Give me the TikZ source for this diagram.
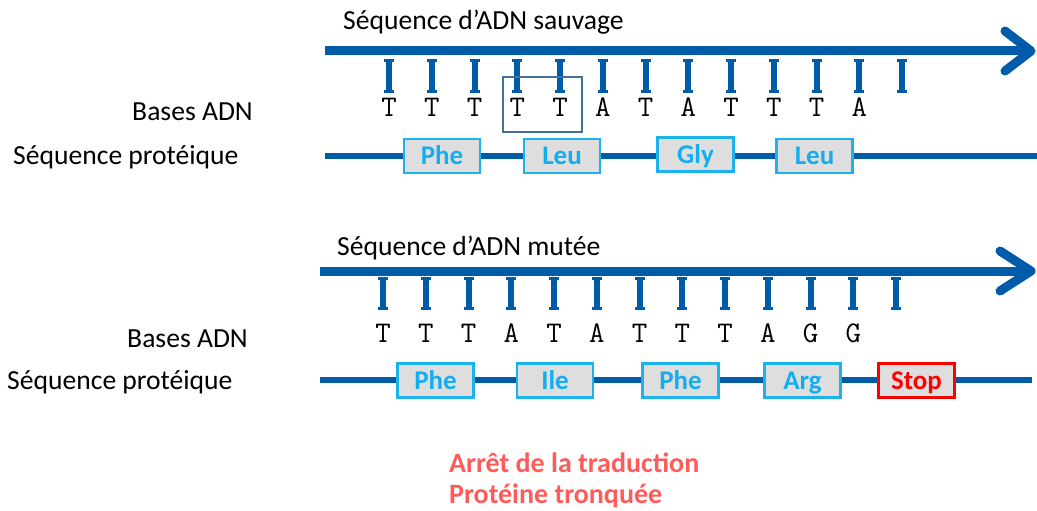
\documentclass[tikz,border=0pt]{standalone}
\usepackage{fontspec}
\setmainfont{Carlito}
\definecolor{dnablue}{HTML}{005CA9}
\definecolor{aablue}{HTML}{14AEEE}
\definecolor{aaedge}{HTML}{1CB2EC}
\definecolor{aafill}{HTML}{DEDEDE}
\definecolor{hlbox}{HTML}{41719C}
\definecolor{stopred}{HTML}{FF0000}
\definecolor{caption}{HTML}{FF5B5B}
\tikzset{
  strand/.style={draw=dnablue, line width=9pt},
  chevron/.style={draw=dnablue, line width=9pt, line cap=round, line join=round},
  protline/.style={draw=dnablue, line width=5.5pt},
  aabox/.style={draw=aaedge, line width=2.2pt, fill=aafill, minimum width=76pt, minimum height=34pt, inner sep=0pt, text height=17pt, text depth=0pt, text=aablue, font=\fontsize{27}{30}\selectfont\bfseries},
  stopbox/.style={aabox, draw=stopred, text=stopred},
  lbl/.style={inner sep=0pt, font=\fontsize{27.6}{30}\selectfont},
  dnabase/.style={inner sep=0pt, anchor=base, font=\ttfamily\fontsize{30}{30}\selectfont},
  capt/.style={inner sep=0pt, anchor=base west, text=caption, font=\fontsize{28}{30}\selectfont\bfseries}
}
\newcommand\dnatick[3]{%
  \fill[dnablue] (#1-3,#2) rectangle (#1+3,#3);
  \fill[dnablue] (#1-5,#2) rectangle (#1+5,#2+3);
  \fill[dnablue] (#1-5,#3-3) rectangle (#1+5,#3);
}
\begin{document}
\begin{tikzpicture}[x=1pt,y=-1pt]
\useasboundingbox (0,0) rectangle (1037,511);

% ---------- wild type ----------
\node[lbl, anchor=base west] (t1) at (343,30) {Séquence d’ADN sauvage};
\coordinate (s1a) at (325,51);
\coordinate (s1b) at (1028,51);
\draw[strand] (s1a) -- (s1b);
\coordinate (c1a) at (1005,31);
\coordinate (c1b) at (1031,51);
\coordinate (c1c) at (1005,71);
\draw[chevron] (c1a) -- (c1b) -- (c1c);
\foreach \i in {0,...,12}{
  \pgfmathsetmacro\xx{389+42.75*\i}
  \dnatick{\xx}{59}{93}
}
\foreach \b [count=\i from 0] in {T,T,T,T,T,A,T,A,T,T,T,A}{
  \pgfmathsetmacro\xx{389+42.75*\i}
  \node[dnabase] (wb\i) at (\xx,117) {\b};
}
\node[draw=hlbox, line width=1.8pt, minimum width=79pt, minimum height=55pt, inner sep=0pt] (hl) at (542.5,104.5) {};
\node[lbl, anchor=base east] (bl1) at (253,121) {Bases ADN};
\node[lbl, anchor=base west] (pl1) at (13,164) {Séquence protéique};
\coordinate (p1a) at (325,156);
\coordinate (p1b) at (1037,156);
\draw[protline] (p1a) -- (p1b);
\node[aabox] (w1) at (442,156) {Phe};
\node[aabox] (w2) at (562,156) {Leu};
\node[aabox] (w3) at (695.5,154.5) {Gly};
\node[aabox] (w4) at (814.5,156) {Leu};

% ---------- mutant ----------
\node[lbl, anchor=base west] (t2) at (337,255) {Séquence d’ADN mutée};
\coordinate (s2a) at (320,271);
\coordinate (s2b) at (1028,271);
\draw[strand] (s2a) -- (s2b);
\coordinate (c2a) at (1000,251);
\coordinate (c2b) at (1031,271);
\coordinate (c2c) at (1000,291);
\draw[chevron] (c2a) -- (c2b) -- (c2c);
\foreach \i in {0,...,12}{
  \pgfmathsetmacro\xx{383+42.75*\i}
  \dnatick{\xx}{277}{310}
}
\foreach \b [count=\i from 0] in {T,T,T,A,T,A,T,T,T,A,G,G}{
  \pgfmathsetmacro\xx{383+42.75*\i}
  \node[dnabase] (mb\i) at (\xx,342) {\b};
}
\node[lbl, anchor=base east] (bl2) at (248,347) {Bases ADN};
\node[lbl, anchor=base west] (pl2) at (7,389) {Séquence protéique};
\coordinate (p2a) at (320,380);
\coordinate (p2b) at (1032,380);
\draw[protline] (p2a) -- (p2b);
\node[aabox] (m1) at (435.5,380.5) {Phe};
\node[aabox] (m2) at (555,380.5) {Ile};
\node[aabox] (m3) at (680.5,380.5) {Phe};
\node[aabox] (m4) at (802.5,380.5) {Arg};
\node[stopbox] (m5) at (916.5,380.5) {Stop};

% ---------- caption ----------
\node[capt] (cap1) at (449,472) {Arrêt de la traduction};
\node[capt] (cap2) at (449,503) {Protéine tronquée};
\end{tikzpicture}
\end{document}
